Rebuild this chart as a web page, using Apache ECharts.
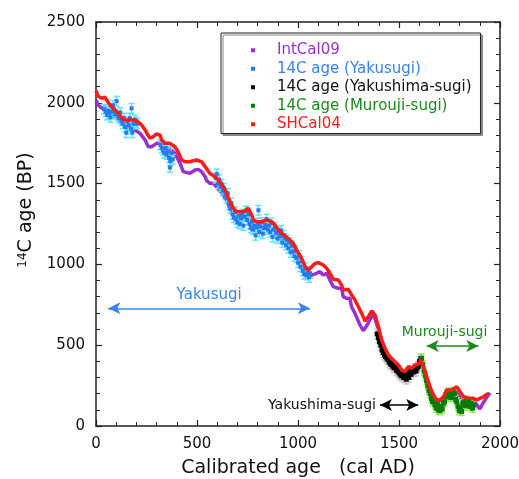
<!DOCTYPE html>
<html>
<head>
<meta charset="utf-8">
<script src="https://cdn.jsdelivr.net/npm/echarts@6/dist/echarts.min.js"></script>
<style>
html, body { margin: 0; padding: 0; background: #fff; }
#main { width: 519px; height: 479px; }
</style>
</head>
<body>
<div id="main"></div>
<script>
// ---- data (cal AD, 14C BP) ----
var intcal09 = [
  [0,2017],[11,1986],[28,1966],[45,1976],[61,1955],[77,1935],[102,1904],[127,1873],[152,1842],[168,1832],
  [193,1832],[218,1811],[243,1770],[259,1728],[275,1728],[300,1749],[325,1749],[342,1728],[366,1718],[391,1687],
  [416,1625],[432,1574],[465,1563],[490,1584],[506,1588],[523,1574],[540,1543],[548,1518],[564,1502],[581,1502],
  [600,1475],[625,1440],[647,1395],[663,1345],[680,1305],[700,1285],[729,1285],[750,1295],[765,1260],[780,1232],
  [800,1222],[825,1220],[845,1228],[870,1215],[886,1195],[903,1170],[920,1150],[940,1135],[960,1110],[977,1085],
  [993,1045],[1010,1000],[1030,945],[1045,918],[1068,934],[1092,945],[1109,955],[1125,934],[1142,945],[1158,903],
  [1175,862],[1200,852],[1216,852],[1224,800],[1241,790],[1257,790],[1265,738],[1282,697],[1307,625],[1323,590],
  [1340,620],[1356,656],[1373,697],[1390,630],[1410,540],[1430,470],[1450,420],[1470,390],[1490,360],[1510,330],
  [1530,320],[1545,340],[1560,345],[1580,350],[1600,370],[1612,395],[1625,350],[1640,290],[1655,230],[1670,185],
  [1690,140],[1705,130],[1720,165],[1740,200],[1760,180],[1780,215],[1800,180],[1820,155],[1840,150],[1860,160],
  [1880,140],[1900,105],[1915,140],[1930,170],[1950,205]
];
var shcal04 = [
  [0,2075],[11,2040],[28,2028],[45,2034],[53,2017],[69,1986],[84,1967],[110,1935],[127,1904],[144,1893],
  [168,1893],[193,1893],[208,1883],[226,1863],[243,1832],[257,1800],[267,1782],[282,1789],[300,1807],[317,1800],
  [325,1770],[342,1749],[366,1749],[391,1728],[406,1697],[424,1646],[441,1635],[465,1635],[482,1642],[498,1646],
  [523,1635],[540,1605],[564,1563],[589,1543],[614,1512],[630,1481],[647,1440],[663,1388],[680,1347],[696,1326],
  [729,1326],[754,1347],[771,1306],[779,1275],[795,1264],[820,1264],[845,1275],[870,1264],[886,1244],[903,1213],
  [919,1192],[936,1176],[960,1151],[977,1130],[993,1089],[1018,1037],[1035,986],[1051,965],[1068,986],[1084,1006],
  [1101,1011],[1125,996],[1142,976],[1158,945],[1175,908],[1200,903],[1216,872],[1224,842],[1249,846],[1265,812],
  [1282,780],[1299,738],[1315,697],[1332,650],[1348,676],[1365,712],[1381,687],[1398,614],[1414,532],[1431,481],
  [1447,439],[1463,419],[1480,398],[1497,377],[1513,347],[1530,336],[1546,367],[1563,357],[1579,377],[1596,384],
  [1608,405],[1621,367],[1637,305],[1653,243],[1670,192],[1686,161],[1703,161],[1720,181],[1736,223],[1761,223],
  [1786,243],[1802,212],[1819,181],[1843,171],[1868,171],[1884,161],[1901,171],[1918,181],[1942,202]
];
var yakusugi = [
  [40,1960],[48,1945],[55,1925],[60,1950],[66,1935],[72,1910],[78,1945],[84,1985],[90,1960],[96,1930],
  [102,2010],[108,1920],[114,1905],[120,1940],[126,1890],[132,1870],[138,1905],[144,1850],[150,1815],[156,1880],
  [162,1860],[168,1905],[174,1840],[176,1966],[180,1815],[186,1870],[192,1895],[198,1880],[204,1870],
  [318,1740],[325,1720],[332,1705],[338,1690],[345,1720],[350,1680],[356,1700],[362,1660],[366,1600],[368,1640],[374,1690],[380,1650],
  [592,1535],[598,1560],[604,1500],[610,1525],[616,1480],[622,1495],[628,1455],[634,1470],[640,1430],[646,1410],
  [652,1440],[658,1370],[664,1345],[670,1380],[676,1310],[682,1290],[688,1325],[694,1280],[700,1260],[706,1300],
  [712,1250],[718,1285],[724,1310],[730,1240],[736,1295],[742,1330],[748,1275],[754,1310],[760,1250],[766,1225],
  [772,1265],[778,1215],[784,1240],[790,1180],[796,1230],[802,1255],[804,1335],[808,1200],[814,1235],[820,1260],
  [826,1190],[832,1225],[838,1245],[844,1280],[850,1215],[856,1240],[862,1200],[868,1255],[874,1170],[880,1215],
  [886,1230],[892,1195],[898,1160],[904,1200],[910,1175],[916,1210],[922,1135],[928,1180],[934,1160],[940,1120],
  [946,1150],[952,1100],[958,1135],[964,1075],[970,1115],[976,1080],[982,1050],[988,1085],[994,1040],[1000,1010],
  [1006,1055],[1012,985],[1018,1020],[1024,960],[1030,940],[1036,980],[1042,935],[1048,955],[1054,920],[1060,945]
];
var yakushima = [
  [1392,570],[1398,545],[1404,520],[1410,500],[1416,470],[1422,455],[1428,440],[1434,430],[1440,420],[1446,410],
  [1452,395],[1458,385],[1464,380],[1470,370],[1476,360],[1482,365],[1488,345],[1494,340],[1500,330],[1506,320],
  [1512,310],[1518,320],[1524,300],[1530,310],[1536,290],[1542,330],[1548,300],[1554,340],[1560,320],[1566,345],
  [1572,335],[1578,355],[1584,340],[1590,360],[1596,370],[1602,400],[1608,415]
];
var murouji = [
  [1612,420],[1618,380],[1624,340],[1630,310],[1636,280],[1642,250],[1648,220],[1654,200],[1660,170],[1666,150],
  [1672,160],[1678,130],[1684,110],[1690,140],[1696,100],[1702,95],[1708,120],[1714,105],[1720,140],[1726,150],
  [1732,180],[1738,200],[1744,210],[1750,190],[1756,175],[1762,195],[1768,215],[1774,200],[1780,165],[1786,150],
  [1792,120],[1798,95],[1804,110],[1810,90],[1816,140],[1822,150],[1828,125],[1834,160],[1840,135],[1846,150],
  [1852,120],[1858,140],[1864,110],[1870,130]
];
// one-sigma errors (BP) of each tree series
var yakusugiErr = 30, yakushimaErr = 30, muroujiErr = 25;
// arrows: [x start, x end, y]
var arrowYakusugi = [61, 1059, 728];
var arrowYakushima = [1406, 1595, 130];
var arrowMurouji = [1637, 1893, 495];

var FONT = 'DejaVu Sans';

function errBars(color, err) {
  return function (params, api) {
    var x = api.value(0), y = api.value(1);
    var hi = api.coord([x, y + err]);
    var lo = api.coord([x, y - err]);
    var st = { stroke: color, lineWidth: 1.5 };
    return {
      type: 'group',
      children: [
        { type: 'line', shape: { x1: hi[0], y1: hi[1], x2: lo[0], y2: lo[1] }, style: st },
        { type: 'line', shape: { x1: hi[0] - 3, y1: hi[1], x2: hi[0] + 3, y2: hi[1] }, style: st },
        { type: 'line', shape: { x1: lo[0] - 3, y1: lo[1], x2: lo[0] + 3, y2: lo[1] }, style: st }
      ]
    };
  };
}

var myChart = echarts.init(document.getElementById('main'));

var axisLine = { show: true, onZero: false, lineStyle: { color: '#222', width: 1.5 } };
var tick = { show: true, inside: true, length: 6, lineStyle: { color: '#222', width: 1.2 } };
var minor = { show: true, splitNumber: 5, length: 4, lineStyle: { color: '#222', width: 1 } };
var plain = function (v) { return String(v); };

var option = {
  animation: false,
  backgroundColor: '#fff',
  textStyle: { fontFamily: FONT },
  grid: { left: 96, right: 19, top: 22, bottom: 53, outerBoundsMode: 'none', containLabel: false },
  legend: {
    orient: 'vertical',
    left: 221, top: 33,
    padding: [9, 9, 1, 30],
    backgroundColor: '#fff',
    borderColor: '#222', borderWidth: 1,
    shadowColor: '#888', shadowOffsetX: 2, shadowOffsetY: 2, shadowBlur: 0,
    icon: 'path://M0,0h1v1h-1z',
    itemWidth: 38, itemHeight: 4,
    itemGap: 2,
    textStyle: { fontFamily: FONT, fontSize: 15, lineHeight: 16.5 },
    data: [
      { name: 'IntCal09', textStyle: { color: '#9b30d0' } },
      { name: '14C age (Yakusugi)', textStyle: { color: '#3a82f0' } },
      { name: '14C age (Yakushima-sugi)', textStyle: { color: '#111' } },
      { name: '14C age (Murouji-sugi)', textStyle: { color: '#1c8a1c' } },
      { name: 'SHCal04', textStyle: { color: '#ff1a1a' } }
    ]
  },
  xAxis: [{
    type: 'value', min: 0, max: 2000, interval: 500,
    name: 'Calibrated age   (cal AD)', nameLocation: 'middle', nameGap: 33,
    nameTextStyle: { fontFamily: FONT, fontSize: 19, color: '#111' },
    axisLine: axisLine, axisTick: tick, minorTick: minor,
    axisLabel: { fontFamily: FONT, fontSize: 15, color: '#111', margin: 11, formatter: plain },
    splitLine: { show: false }
  }, {
    type: 'value', position: 'top', min: 0, max: 2000, interval: 500,
    axisLine: axisLine, axisTick: tick, minorTick: minor,
    axisLabel: { show: false }, splitLine: { show: false }
  }],
  yAxis: [{
    type: 'value', min: 0, max: 2500, interval: 500,
    name: '{sup|14}C age (BP)', nameLocation: 'middle', nameGap: 50, nameRotate: 90,
    nameTextStyle: {
      fontFamily: FONT, fontSize: 19, color: '#111', padding: [0, 0, 0, 28],
      rich: { sup: { fontFamily: FONT, fontSize: 12, color: '#111', verticalAlign: 'top', padding: [0, 0, 8, 0] } }
    },
    axisLine: axisLine, axisTick: tick, minorTick: minor,
    axisLabel: { fontFamily: FONT, fontSize: 15, color: '#111', margin: 11, formatter: plain },
    splitLine: { show: false }
  }, {
    type: 'value', position: 'right', min: 0, max: 2500, interval: 500,
    axisLine: axisLine, axisTick: tick, minorTick: minor,
    axisLabel: { show: false }, splitLine: { show: false }
  }],
  series: [
    {
      name: 'IntCal09', type: 'line', data: intcal09,
      symbol: 'rect', showSymbol: false, symbolSize: 4,
      lineStyle: { color: '#9b30d0', width: 3.5 }, itemStyle: { color: '#9b30d0' }, z: 2
    },
    {
      type: 'custom', data: yakusugi, renderItem: errBars('#62e4f2', yakusugiErr), z: 3, silent: true
    },
    {
      name: '14C age (Yakusugi)', type: 'scatter', data: yakusugi,
      symbol: 'rect', symbolSize: 4, itemStyle: { color: '#2a78f0', opacity: 1 }, z: 4
    },
    {
      type: 'custom', data: yakushima, renderItem: errBars('#c4c4c4', yakushimaErr), z: 3, silent: true
    },
    {
      name: '14C age (Yakushima-sugi)', type: 'scatter', data: yakushima,
      symbol: 'rect', symbolSize: 5, itemStyle: { color: '#000', opacity: 1 }, z: 4
    },
    {
      type: 'custom', data: murouji, renderItem: errBars('#8cf050', muroujiErr), z: 3, silent: true
    },
    {
      name: '14C age (Murouji-sugi)', type: 'scatter', data: murouji,
      symbol: 'rect', symbolSize: 5, itemStyle: { color: '#0a7a0a', opacity: 1 }, z: 4
    },
    {
      name: 'SHCal04', type: 'line', data: shcal04,
      symbol: 'rect', showSymbol: false, symbolSize: 4,
      lineStyle: { color: '#ff1a1a', width: 3.5 }, itemStyle: { color: '#ff1a1a' }, z: 5
    },
    {
      type: 'line', data: [], silent: true, z: 6,
      markLine: {
        silent: true, symbol: ['arrow', 'arrow'], symbolSize: [9, 12],
        data: [
          [{ coord: [arrowYakusugi[0], arrowYakusugi[2]],
             lineStyle: { color: '#3a82f0', width: 1.5, type: 'solid' },
             label: { show: true, position: 'middle', formatter: 'Yakusugi', color: '#3a82f0', fontFamily: FONT, fontSize: 15, distance: 6 } },
           { coord: [arrowYakusugi[1], arrowYakusugi[2]] }],
          [{ coord: [arrowYakushima[0], arrowYakushima[2]],
             lineStyle: { color: '#000', width: 1.5, type: 'solid' },
             label: { show: true, position: 'start', formatter: 'Yakushima-sugi', color: '#111', fontFamily: FONT, fontSize: 14, distance: 4 } },
           { coord: [arrowYakushima[1], arrowYakushima[2]] }],
          [{ coord: [arrowMurouji[0], arrowMurouji[2]],
             lineStyle: { color: '#1c8a1c', width: 1.5, type: 'solid' },
             label: { show: true, position: 'middle', formatter: 'Murouji-sugi', color: '#1c8a1c', fontFamily: FONT, fontSize: 14, distance: 7, padding: [0, 16, 0, 0] } },
           { coord: [arrowMurouji[1], arrowMurouji[2]] }]
        ]
      }
    }
  ]
};

myChart.setOption(option);
</script>
</body>
</html>
